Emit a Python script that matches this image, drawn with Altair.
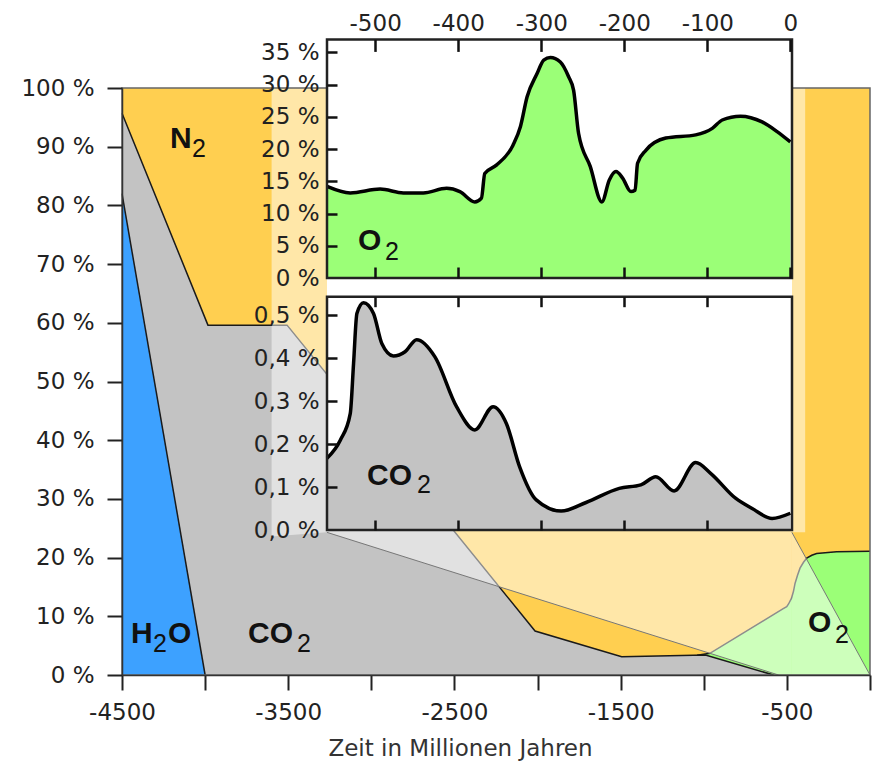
import altair as alt
import pandas as pd

FONT = "DejaVu Sans"
LFONT = "Liberation Sans"
ORANGE = "#FFCF50"
GRAY = "#C3C3C3"
BLUE = "#3DA1FF"
GREEN = "#9BFF77"
INK = "#1a1a1a"

# ---------------- main chart: composition of the atmosphere (%) ----------------
n2_x = [-4500, 0]
n2_y = [100, 100]
co2_top_x = [-4500, -3983, -3507, -2015, -1494, -990, -580, 0]
co2_top_y = [95.7, 59.6, 59.6, 7.5, 3.1, 3.4, 0.0, 0.0]
h2o_top_x = [-4500, -4000]
h2o_top_y = [82.0, 0.0]
o2_top_x = [-1040, -963, -522, -501, -490, -472, -460, -451, -436, -421, -400, -381,
            -350, -321, -201, 0]
o2_top_y = [3.35, 3.7, 11.3, 11.65, 12.1, 13.1, 14.3, 15.6, 17.0, 18.2, 19.2, 19.9,
            20.4, 20.7, 21.0, 21.1]

# magnifier (zoom lens) region, main-chart coordinates
lens_x = [-3600, -3267, -550, -470]
lens_lo = [23.6, 24.3, 0.0, 0.0]
lens_hi = [100, 100, 100, 100]
lens_r_x = [-470, 0]
lens_r_hi = [24.3, 0.0]
strip_x, strip_x2, strip_y, strip_y2 = [-470], [-390], [24.3], [100]
funnel_x = [-3267, -550, -470, 0]
funnel_y = [24.3, 0.0, 24.3, 0.0]
funnel_id = ["l", "l", "r", "r"]

# labels in main chart
main_big_t = ["N", "H", "O", "CO", "O"]
main_big_x = [-4211, -4446, -4223, -3742, -373]
main_big_y = [89.7, 5.4, 5.4, 5.4, 7.4]
main_sub_x = [-4079, -4313, -3447, -211]
main_sub_y = [88.3, 4.0, 4.0, 5.4]

# ---------------- inset: O2 during the last 560 Myr (%) ----------------
o2_t = [-558, -530, -494, -466, -442, -414, -398, -380, -372, -368, -354, -334, -325,
        -317, -305, -297, -289, -277, -267, -261, -255, -241, -227, -218, -210, -202,
        -192, -187, -184, -174, -150, -114, -94, -82, -60, -34, -16, 0]
o2_v = [14.2, 13.2, 13.8, 13.2, 13.2, 13.9, 13.4, 11.8, 12.4, 16.2, 17.5, 20.6, 23.5,
        28.1, 31.7, 33.8, 34.2, 33.5, 31.2, 29.1, 22.4, 17.3, 11.8, 15.2, 16.5, 15.5,
        13.4, 13.6, 17.8, 19.8, 21.7, 22.2, 23.2, 24.5, 25.1, 24.2, 22.7, 21.1]
o2_ticks_x = [-500, -400, -300, -200, -100, 0]
o2_ticks_y = [0, 5, 10, 15, 20, 25, 30, 35]
o2_lab = (["O"], [-520.7], [4.34], [-488.2], [2.79])

# ---------------- inset: CO2 during the last 560 Myr (%) ----------------
co2_t = [-558, -542, -530, -526, -522, -514, -502, -492, -478, -464, -450, -428, -402,
         -380, -358, -342, -326, -306, -276, -246, -206, -180, -162, -140, -114, -96,
         -66, -46, -22, 0]
co2_v = [0.167, 0.209, 0.271, 0.388, 0.504, 0.529, 0.504, 0.434, 0.405, 0.415, 0.443,
         0.403, 0.287, 0.233, 0.287, 0.248, 0.147, 0.070, 0.044, 0.064, 0.097, 0.105,
         0.124, 0.091, 0.157, 0.132, 0.074, 0.050, 0.027, 0.039]
co2_ticks_x = [-500, -400, -300, -200, -100]
co2_ticks_y = [0.0, 0.1, 0.2, 0.3, 0.4, 0.5]
co2_lab = (["CO"], [-509.8], [0.1047], [-449.6], [0.0854])

# ---------------- scales ----------------
W, H = 748, 587
INS_X = [205, 670]
O2_R = [190, -48.6]
CO2_R = [442, 208.7]
O2_DOM = [0, 37]
CO2_DOM = [0, 0.543]
XM = alt.Scale(domain=[-4500, 0], nice=False, zero=False)
YM = alt.Scale(domain=[0, 100], nice=False, zero=False)
XI = alt.Scale(domain=[-558, 2], range=INS_X, nice=False, zero=False)
YO = alt.Scale(domain=O2_DOM, range=O2_R, nice=False, zero=False)
YC = alt.Scale(domain=CO2_DOM, range=CO2_R, nice=False, zero=False)

lab = dict(labelFont=FONT, labelFontSize=23, labelColor="#222", labelFlush=False,
           labelOverlap=False, grid=False, zindex=1)

x_axis_main = alt.Axis(orient="bottom", values=list(range(-4500, 1, 500)),
                       labelExpr="(datum.value + 4500) % 1000 == 0 ? '' + datum.value : ''",
                       tickSize=15, tickWidth=2, tickColor="#222", domainColor="#333",
                       domainWidth=1.5, labelPadding=11,
                       titleFont=FONT, titleFontSize=23, titleFontWeight="normal",
                       titleColor="#333", titleX=338, titleY=80, titleAlign="center",
                       titleBaseline="alphabetic", **lab)
y_axis_main = alt.Axis(orient="left", values=list(range(0, 101, 10)),
                       labelExpr="datum.value + ' %'", tickSize=15, tickWidth=2,
                       tickColor="#222", domainColor="#333", domainWidth=1.5,
                       labelPadding=13, **lab)


def xm(f="x", axis=None, title=None):
    return alt.X(f"{f}:Q", scale=XM, axis=axis, title=title)


def ym(f="y", axis=None):
    return alt.Y(f"{f}:Q", scale=YM, axis=axis, title=None, stack=None)


layers = []

# N2 (everything above the other gases)
layers.append(alt.Chart(pd.DataFrame({"x": n2_x, "y": n2_y})).mark_area(
    color=ORANGE, orient="vertical").encode(
    x=xm(axis=x_axis_main, title="Zeit in Millionen Jahren"), y=ym(axis=y_axis_main)))
# O2
o2m = pd.DataFrame({"x": o2_top_x, "y": o2_top_y})
layers.append(alt.Chart(o2m).mark_area(color=GREEN, orient="vertical").encode(x=xm(), y=ym()))
# CO2
co2m = pd.DataFrame({"x": co2_top_x, "y": co2_top_y})
layers.append(alt.Chart(co2m).mark_area(color=GRAY, orient="vertical").encode(x=xm(), y=ym()))
# H2O
h2om = pd.DataFrame({"x": h2o_top_x, "y": h2o_top_y})
layers.append(alt.Chart(h2om).mark_area(color=BLUE, orient="vertical").encode(x=xm(), y=ym()))
# boundary lines
layers.append(alt.Chart(co2m[co2m.x <= -580]).mark_line(color=INK, strokeWidth=1.5).encode(x=xm(), y=ym()))
layers.append(alt.Chart(h2om).mark_line(color=INK, strokeWidth=1.5).encode(x=xm(), y=ym()))
layers.append(alt.Chart(o2m).mark_line(color=INK, strokeWidth=1.5).encode(x=xm(), y=ym()))
# magnifier veil
layers.append(alt.Chart(pd.DataFrame({"x": lens_x, "lo": lens_lo, "hi": lens_hi})).mark_area(
    color="white", opacity=0.5, orient="vertical").encode(x=xm(), y=ym("hi"), y2="lo:Q"))
layers.append(alt.Chart(pd.DataFrame({"x": lens_r_x, "hi": lens_r_hi})).mark_area(
    color="white", opacity=0.5, orient="vertical").encode(x=xm(), y=ym("hi")))
layers.append(alt.Chart(pd.DataFrame({"x": strip_x, "x2": strip_x2, "y": strip_y, "y2": strip_y2})).mark_rect(
    color="white", opacity=0.5).encode(x=xm(), x2="x2:Q", y=ym(), y2="y2:Q"))
layers.append(alt.Chart(pd.DataFrame({"x": funnel_x, "y": funnel_y, "id": funnel_id})).mark_line(
    color="#777", strokeWidth=1).encode(x=xm(), y=ym(), detail="id:N"))
# frame
layers.append(alt.Chart(pd.DataFrame({"x": [n2_x[0]], "x2": [n2_x[-1]], "y": [0], "y2": [n2_y[0]]})).mark_rect(
    fillOpacity=0, stroke="#666", strokeWidth=1.5).encode(x=xm(), x2="x2:Q", y=ym(), y2="y2:Q"))
# labels
layers.append(alt.Chart(pd.DataFrame({"x": main_big_x, "y": main_big_y, "t": main_big_t})).mark_text(
    align="left", baseline="alphabetic", font=LFONT, fontWeight="bold", fontSize=30, color="#111").encode(
    x=xm(), y=ym(), text="t:N"))
layers.append(alt.Chart(pd.DataFrame({"x": main_sub_x, "y": main_sub_y, "t": ["2"] * 4})).mark_text(
    align="left", baseline="alphabetic", font=LFONT, fontSize=25, color="#111").encode(
    x=xm(), y=ym(), text="t:N"))

# ---------------- insets ----------------
o2_px_per_unit = (O2_R[0] - O2_R[1]) / (O2_DOM[1] - O2_DOM[0])
box_bottom = (O2_R[0] - CO2_R[0]) / o2_px_per_unit  # CO2 inset bottom, in O2 units
layers.append(alt.Chart(pd.DataFrame({"x": [-558], "x2": [2], "y": [box_bottom], "y2": [O2_DOM[1]]})).mark_rect(
    color="white").encode(x=alt.X("x:Q", scale=XI, axis=None), x2="x2:Q",
                          y=alt.Y("y:Q", scale=YO, axis=None), y2="y2:Q"))


def inset(t, v, ys, dom, fill, xaxis, yaxis, labs):
    df = pd.DataFrame({"t": t, "v": v})
    out = []
    out.append(alt.Chart(df).mark_area(color=fill, orient="vertical", interpolate="monotone").encode(
        x=alt.X("t:Q", scale=XI, axis=xaxis, title=None),
        y=alt.Y("v:Q", scale=ys, axis=yaxis, title=None, stack=None)))
    out.append(alt.Chart(df).mark_line(color="#000", strokeWidth=3.5, interpolate="monotone").encode(
        x=alt.X("t:Q", scale=XI, axis=None), y=alt.Y("v:Q", scale=ys, axis=None)))
    out.append(alt.Chart(pd.DataFrame({"x": [-558], "x2": [2], "y": [dom[0]], "y2": [dom[1]]})).mark_rect(
        fillOpacity=0, stroke="#222", strokeWidth=2.5).encode(
        x=alt.X("x:Q", scale=XI, axis=None), x2="x2:Q",
        y=alt.Y("y:Q", scale=ys, axis=None), y2="y2:Q"))
    bt, bx, by, sx, sy = labs
    out.append(alt.Chart(pd.DataFrame({"x": bx, "y": by, "t": bt})).mark_text(
        align="left", baseline="alphabetic", font=LFONT, fontWeight="bold", fontSize=30, color="#111").encode(
        x=alt.X("x:Q", scale=XI, axis=None), y=alt.Y("y:Q", scale=ys, axis=None), text="t:N"))
    out.append(alt.Chart(pd.DataFrame({"x": sx, "y": sy, "t": ["2"]})).mark_text(
        align="left", baseline="alphabetic", font=LFONT, fontSize=25, color="#111").encode(
        x=alt.X("x:Q", scale=XI, axis=None), y=alt.Y("y:Q", scale=ys, axis=None), text="t:N"))
    return out


def tick_layer(t, v, ys, xaxis=None, yaxis=None):
    df = pd.DataFrame({"t": t, "v": v})
    return alt.Chart(df).mark_point(opacity=0).encode(
        x=alt.X("t:Q", scale=XI, axis=xaxis, title=None),
        y=alt.Y("v:Q", scale=ys, axis=yaxis, title=None))


tick = dict(labels=False, domain=False, ticks=True, tickColor="#111", tickWidth=2.5,
            grid=False, zindex=1)

o2_xaxis = alt.Axis(orient="top", offset=-O2_R[1], values=o2_ticks_x, ticks=False, tickSize=0,
                    domain=False, labelExpr="'' + datum.value", labelPadding=3.5, **lab)
o2_yaxis = alt.Axis(orient="left", offset=-INS_X[0], values=o2_ticks_y, ticks=False, tickSize=0,
                    domain=False, labelExpr="datum.value + ' %'", labelPadding=8, **lab)
co2_yaxis = alt.Axis(orient="left", offset=-INS_X[0], values=co2_ticks_y, ticks=False, tickSize=0,
                     domain=False, labelExpr="replace(format(datum.value, '.1f'), '.', ',') + ' %'",
                     labelPadding=8, **lab)

layers += inset(o2_t, o2_v, YO, O2_DOM, GREEN, o2_xaxis, o2_yaxis, o2_lab)
layers += inset(co2_t, co2_v, YC, CO2_DOM, GRAY, None, co2_yaxis, co2_lab)

# inward ticks of the insets
layers.append(tick_layer(o2_t, o2_v, YO, xaxis=alt.Axis(orient="bottom", offset=O2_R[1] - H,
                                                         values=o2_ticks_x, tickSize=12, **tick)))
layers.append(tick_layer(o2_t, o2_v, YO, xaxis=alt.Axis(orient="top", offset=-O2_R[0],
                                                         values=o2_ticks_x, tickSize=11, **tick)))
layers.append(tick_layer(o2_t, o2_v, YO, yaxis=alt.Axis(orient="right", offset=INS_X[0] - W,
                                                         values=o2_ticks_y[1:], tickSize=10, **tick)))
layers.append(tick_layer(co2_t, co2_v, YC, xaxis=alt.Axis(orient="bottom", offset=CO2_R[1] - H,
                                                           values=co2_ticks_x, tickSize=10, **tick)))
layers.append(tick_layer(co2_t, co2_v, YC, xaxis=alt.Axis(orient="top", offset=-CO2_R[0],
                                                           values=co2_ticks_x, tickSize=10, **tick)))
layers.append(tick_layer(co2_t, co2_v, YC, yaxis=alt.Axis(orient="right", offset=INS_X[0] - W,
                                                           values=co2_ticks_y[1:], tickSize=10, **tick)))

chart = alt.layer(*layers).resolve_scale(x="independent", y="independent").properties(
    width=W, height=H,
    padding={"left": 122, "top": 88, "right": 7, "bottom": 87},
    autosize=alt.AutoSizeParams(type="none"),
).configure_view(stroke=None)

chart.save("out.html", embed_options={"renderer": "svg", "actions": False})
